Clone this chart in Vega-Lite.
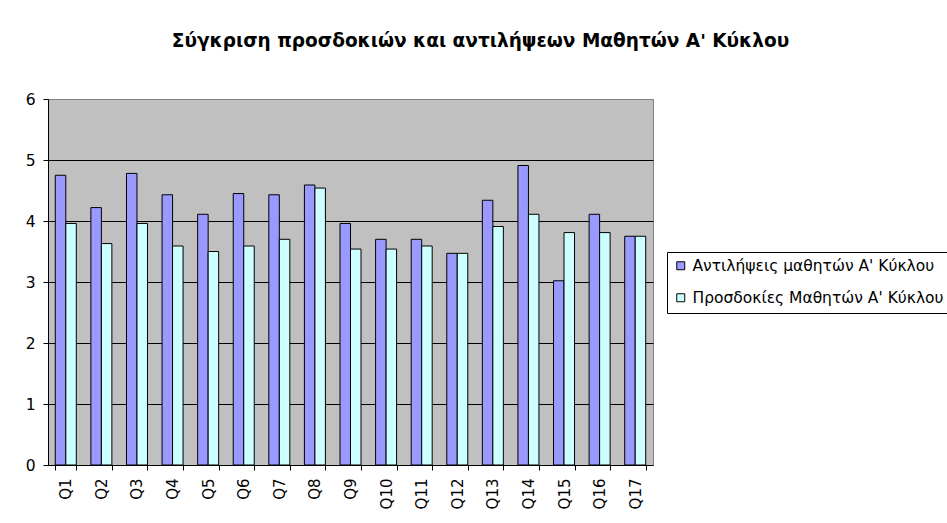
{
  "$schema": "https://vega.github.io/schema/vega-lite/v6.json",
  "width": 605,
  "height": 366,
  "autosize": {"type": "none"},
  "padding": {"left": 48, "top": 99, "right": 294, "bottom": 58},
  "background": "white",
  "title": {
    "text": "Σύγκριση προσδοκιών και αντιλήψεων Μαθητών Α' Κύκλου",
    "font": "DejaVu Sans",
    "fontSize": 18.5,
    "fontWeight": "bold",
    "color": "black",
    "anchor": "middle",
    "dx": 130,
    "offset": 42
  },
  "config": {
    "font": "DejaVu Sans",
    "view": {"fill": "#C0C0C0", "stroke": "#808080", "strokeWidth": 1}
  },
  "data": {
    "values": [
      {"q": "Q1", "series": "Αντιλήψεις μαθητών Α' Κύκλου", "value": 4.75},
      {"q": "Q1", "series": "Προσδοκίες Μαθητών Α' Κύκλου", "value": 3.96},
      {"q": "Q2", "series": "Αντιλήψεις μαθητών Α' Κύκλου", "value": 4.22},
      {"q": "Q2", "series": "Προσδοκίες Μαθητών Α' Κύκλου", "value": 3.63},
      {"q": "Q3", "series": "Αντιλήψεις μαθητών Α' Κύκλου", "value": 4.78},
      {"q": "Q3", "series": "Προσδοκίες Μαθητών Α' Κύκλου", "value": 3.96},
      {"q": "Q4", "series": "Αντιλήψεις μαθητών Α' Κύκλου", "value": 4.43},
      {"q": "Q4", "series": "Προσδοκίες Μαθητών Α' Κύκλου", "value": 3.59},
      {"q": "Q5", "series": "Αντιλήψεις μαθητών Α' Κύκλου", "value": 4.11},
      {"q": "Q5", "series": "Προσδοκίες Μαθητών Α' Κύκλου", "value": 3.5},
      {"q": "Q6", "series": "Αντιλήψεις μαθητών Α' Κύκλου", "value": 4.45},
      {"q": "Q6", "series": "Προσδοκίες Μαθητών Α' Κύκλου", "value": 3.59},
      {"q": "Q7", "series": "Αντιλήψεις μαθητών Α' Κύκλου", "value": 4.43},
      {"q": "Q7", "series": "Προσδοκίες Μαθητών Α' Κύκλου", "value": 3.7},
      {"q": "Q8", "series": "Αντιλήψεις μαθητών Α' Κύκλου", "value": 4.59},
      {"q": "Q8", "series": "Προσδοκίες Μαθητών Α' Κύκλου", "value": 4.54},
      {"q": "Q9", "series": "Αντιλήψεις μαθητών Α' Κύκλου", "value": 3.96},
      {"q": "Q9", "series": "Προσδοκίες Μαθητών Α' Κύκλου", "value": 3.54},
      {"q": "Q10", "series": "Αντιλήψεις μαθητών Α' Κύκλου", "value": 3.7},
      {"q": "Q10", "series": "Προσδοκίες Μαθητών Α' Κύκλου", "value": 3.54},
      {"q": "Q11", "series": "Αντιλήψεις μαθητών Α' Κύκλου", "value": 3.7},
      {"q": "Q11", "series": "Προσδοκίες Μαθητών Α' Κύκλου", "value": 3.59},
      {"q": "Q12", "series": "Αντιλήψεις μαθητών Α' Κύκλου", "value": 3.47},
      {"q": "Q12", "series": "Προσδοκίες Μαθητών Α' Κύκλου", "value": 3.47},
      {"q": "Q13", "series": "Αντιλήψεις μαθητών Α' Κύκλου", "value": 4.34},
      {"q": "Q13", "series": "Προσδοκίες Μαθητών Α' Κύκλου", "value": 3.91},
      {"q": "Q14", "series": "Αντιλήψεις μαθητών Α' Κύκλου", "value": 4.91},
      {"q": "Q14", "series": "Προσδοκίες Μαθητών Α' Κύκλου", "value": 4.11},
      {"q": "Q15", "series": "Αντιλήψεις μαθητών Α' Κύκλου", "value": 3.02},
      {"q": "Q15", "series": "Προσδοκίες Μαθητών Α' Κύκλου", "value": 3.81},
      {"q": "Q16", "series": "Αντιλήψεις μαθητών Α' Κύκλου", "value": 4.11},
      {"q": "Q16", "series": "Προσδοκίες Μαθητών Α' Κύκλου", "value": 3.81},
      {"q": "Q17", "series": "Αντιλήψεις μαθητών Α' Κύκλου", "value": 3.75},
      {"q": "Q17", "series": "Προσδοκίες Μαθητών Α' Κύκλου", "value": 3.75}
    ]
  },
  "mark": {"type": "bar", "stroke": "black", "strokeWidth": 1},
  "encoding": {
    "x": {
      "field": "q",
      "type": "nominal",
      "sort": null,
      "scale": {"paddingInner": 0.41, "paddingOuter": 0.205},
      "axis": {
        "title": null,
        "labelAngle": -90,
        "labelFontSize": 15,
        "labelColor": "black",
        "labelPadding": 8,
        "tickBand": "extent",
        "tickSize": 5,
        "tickColor": "black",
        "domainColor": "black",
        "grid": false
      }
    },
    "xOffset": {
      "field": "series",
      "type": "nominal",
      "sort": ["Αντιλήψεις μαθητών Α' Κύκλου", "Προσδοκίες Μαθητών Α' Κύκλου"],
      "scale": {"paddingInner": 0, "paddingOuter": 0}
    },
    "y": {
      "field": "value",
      "type": "quantitative",
      "scale": {"domain": [0, 6], "nice": false},
      "axis": {
        "title": null,
        "values": [0, 1, 2, 3, 4, 5, 6],
        "labelFontSize": 15.5,
        "labelColor": "black",
        "labelPadding": 8,
        "tickSize": 5,
        "tickColor": "black",
        "domainColor": "black",
        "grid": true,
        "gridColor": {"condition": {"test": "datum.value == 6 || datum.value == 0", "value": "#808080"}, "value": "black"},
        "gridOpacity": 1
      }
    },
    "color": {
      "field": "series",
      "type": "nominal",
      "sort": ["Αντιλήψεις μαθητών Α' Κύκλου", "Προσδοκίες Μαθητών Α' Κύκλου"],
      "scale": {
        "domain": ["Αντιλήψεις μαθητών Α' Κύκλου", "Προσδοκίες Μαθητών Α' Κύκλου"],
        "range": ["#9999FF", "#CCFFFF"]
      },
      "legend": {
        "title": null,
        "orient": "none",
        "legendX": 619,
        "legendY": 153,
        "strokeColor": "black",
        "fillColor": "white",
        "padding": 6,
        "symbolType": "square",
        "symbolSize": 64,
        "symbolStrokeColor": "black",
        "symbolStrokeWidth": 1,
        "symbolOpacity": 1,
        "labelFontSize": 15.5,
        "labelColor": "black",
        "labelLimit": 400,
        "labelOffset": 4,
        "rowPadding": 15
      }
    }
  }
}
